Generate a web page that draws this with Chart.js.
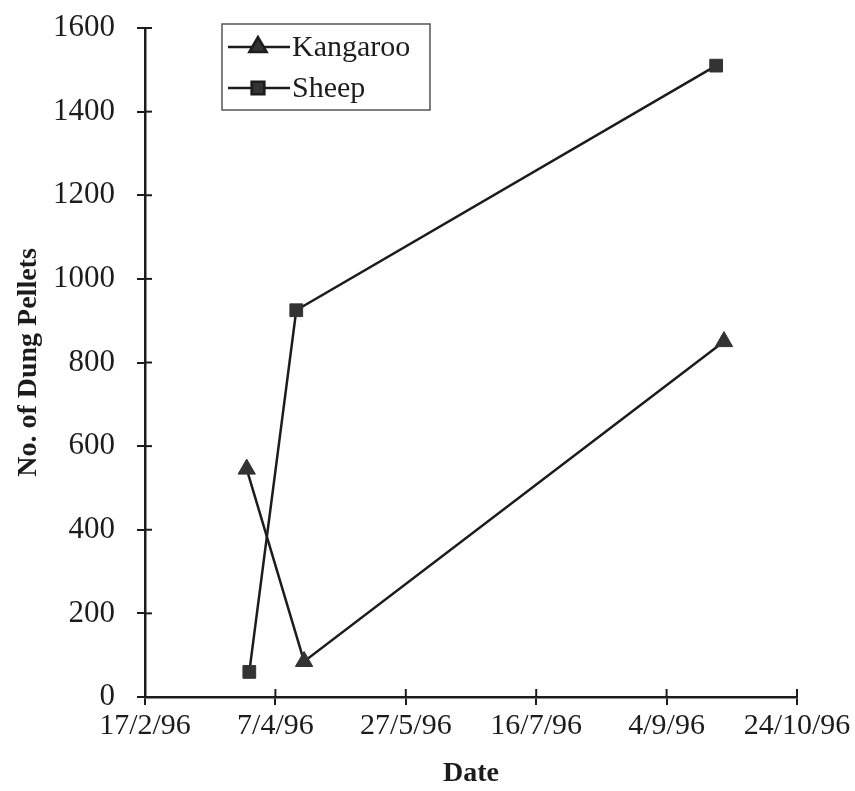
<!DOCTYPE html>
<html>
<head>
<meta charset="utf-8">
<script src="https://cdn.jsdelivr.net/npm/chart.js@4"></script>
<style>
  html, body { margin: 0; padding: 0; background: #fff; }
  #wrap { width: 855px; height: 791px; }
</style>
</head>
<body>
<div id="wrap"><canvas id="dungChart" width="855" height="791"></canvas></div>
<script>
// data
const kangarooDates = ['27/3/96', '18/4/96', '26/9/96'];
const kangarooCounts = [545, 85, 850];
const sheepDates = ['28/3/96', '15/4/96', '23/9/96'];
const sheepCounts = [60, 925, 1510];
const yTicks = [0, 200, 400, 600, 800, 1000, 1200, 1400, 1600];
const xTickLabels = ['17/2/96', '7/4/96', '27/5/96', '16/7/96', '4/9/96', '24/10/96'];

const INK = '#1c1c1c';
const serif = '"Liberation Serif", "DejaVu Serif", serif';
Chart.defaults.font.family = serif;
Chart.defaults.color = INK;

// days since 17/2/96
const base = new Date(1996, 1, 17);
function toDay(s) {
    const p = s.split('/').map(Number);
    const d = new Date(1900 + p[2], p[1] - 1, p[0]);
    return Math.round((d - base) / 86400000);
}
const xStart = toDay(xTickLabels[0]);
const xEnd = toDay(xTickLabels[xTickLabels.length - 1]);

function pts(dates, vals) {
    return dates.map((d, i) => ({ x: toDay(d), y: vals[i] }));
}

// tick marks crossing the axis + boxed legend with line and marker
const paperPlugin = {
    id: 'paper',
    afterDraw(chart) {
        const ctx = chart.ctx;
        const xs = chart.scales.x, ys = chart.scales.y;
        const area = chart.chartArea;
        ctx.save();
        ctx.strokeStyle = INK;
        ctx.lineWidth = 2;
        xs.ticks.forEach(t => {
            const px = xs.getPixelForValue(t.value);
            ctx.beginPath();
            ctx.moveTo(px, area.bottom);
            ctx.lineTo(px, area.bottom - 8);
            ctx.stroke();
        });
        ys.ticks.forEach(t => {
            const py = ys.getPixelForValue(t.value);
            ctx.beginPath();
            ctx.moveTo(area.left, py);
            ctx.lineTo(area.left + 7, py);
            ctx.stroke();
        });

        // legend
        const bx = 222, by = 24, bw = 208, bh = 86;
        ctx.strokeStyle = '#555';
        ctx.lineWidth = 1.5;
        ctx.strokeRect(bx, by, bw, bh);
        ctx.font = '30px ' + serif;
        ctx.textBaseline = 'middle';
        chart.data.datasets.forEach((ds, i) => {
            const cy = by + 23 + i * 41;
            ctx.strokeStyle = INK;
            ctx.lineWidth = 2.5;
            ctx.beginPath();
            ctx.moveTo(bx + 6, cy);
            ctx.lineTo(bx + 68, cy);
            ctx.stroke();
            ctx.fillStyle = '#333';
            Chart.helpers.drawPoint(ctx, {
                pointStyle: ds.pointStyle,
                radius: ds.pointRadius,
                borderWidth: 1
            }, bx + 36, cy);
            ctx.fillStyle = INK;
            ctx.fillText(ds.label, bx + 70, cy + 1);
        });
        ctx.restore();
    }
};

const ctx = document.getElementById('dungChart').getContext('2d');
new Chart(ctx, {
    type: 'line',
    data: {
        datasets: [{
            label: 'Kangaroo',
            data: pts(kangarooDates, kangarooCounts),
            borderColor: INK,
            borderWidth: 2.5,
            pointStyle: 'triangle',
            pointRadius: 10,
            pointBackgroundColor: '#333',
            pointBorderColor: '#333',
            pointBorderWidth: 1
        }, {
            label: 'Sheep',
            data: pts(sheepDates, sheepCounts),
            borderColor: INK,
            borderWidth: 2.5,
            pointStyle: 'rect',
            pointRadius: 9,
            pointBackgroundColor: '#333',
            pointBorderColor: '#333',
            pointBorderWidth: 1
        }]
    },
    options: {
        responsive: false,
        animation: false,
        layout: {
            padding: { top: 28, right: 58, bottom: 0, left: 0 }
        },
        plugins: {
            legend: { display: false },
            tooltip: { enabled: false }
        },
        scales: {
            x: {
                type: 'linear',
                min: xStart,
                max: xEnd,
                afterFit: s => { s.height = 94; },
                afterBuildTicks: s => {
                    s.ticks = xTickLabels.map(l => ({ value: toDay(l) }));
                },
                border: { color: INK, width: 2.5 },
                grid: { drawOnChartArea: false, color: INK, lineWidth: 2, tickLength: 8 },
                ticks: {
                    padding: 3,
                    maxRotation: 0,
                    font: { size: 30 },
                    callback: (v) => {
                        const d = new Date(1996, 1, 17 + v);
                        return d.getDate() + '/' + (d.getMonth() + 1) + '/' + String(d.getFullYear()).slice(2);
                    }
                },
                title: {
                    display: true,
                    text: 'Date',
                    font: { size: 28, weight: 'bold' },
                    padding: { top: 0, bottom: 0 }
                }
            },
            y: {
                min: yTicks[0],
                max: yTicks[yTicks.length - 1],
                afterFit: s => {
                    s.width = 145;
                    s.paddingTop = 0;
                    s.paddingBottom = 0;
                },
                afterBuildTicks: s => {
                    s.ticks = yTicks.map(v => ({ value: v }));
                },
                border: { color: INK, width: 2.5 },
                grid: { drawOnChartArea: false, color: INK, lineWidth: 2, tickLength: 8 },
                ticks: {
                    padding: 22,
                    font: { size: 31 },
                    callback: v => String(v)
                },
                title: {
                    display: true,
                    text: 'No. of Dung Pellets',
                    font: { size: 28, weight: 'bold' },
                    padding: { top: 12, bottom: 0 }
                }
            }
        }
    },
    plugins: [paperPlugin]
});
</script>
</body>
</html>
